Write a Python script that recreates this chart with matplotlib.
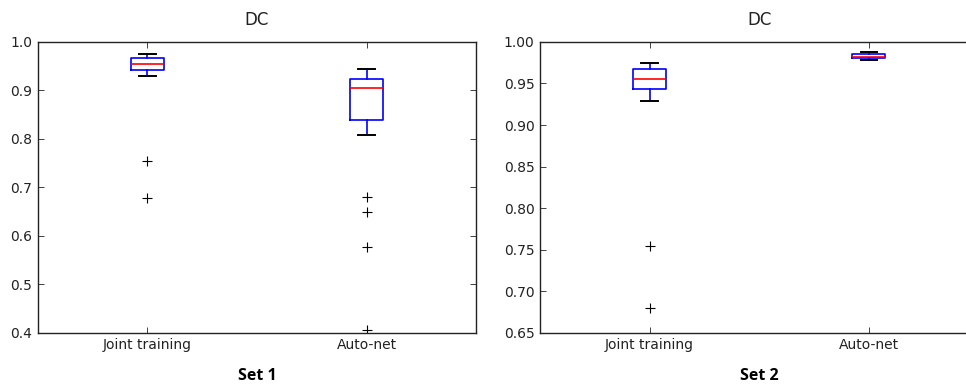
import matplotlib
matplotlib.use("Agg")
import matplotlib.pyplot as plt

categories = ["Joint training", "Auto-net"]

# Set 1 summary statistics
set1_whislo = [0.929, 0.808]
set1_q1 = [0.943, 0.838]
set1_med = [0.955, 0.905]
set1_q3 = [0.967, 0.924]
set1_whishi = [0.975, 0.945]
set1_fliers = [[0.755, 0.679], [0.681, 0.649, 0.577, 0.407]]

# Set 2 summary statistics
set2_whislo = [0.929, 0.978]
set2_q1 = [0.943, 0.980]
set2_med = [0.955, 0.982]
set2_q3 = [0.967, 0.985]
set2_whishi = [0.975, 0.988]
set2_fliers = [[0.755, 0.680], []]

set1_yticks = [0.4, 0.5, 0.6, 0.7, 0.8, 0.9, 1.0]
set2_yticks = [0.65, 0.70, 0.75, 0.80, 0.85, 0.90, 0.95, 1.00]


def make_stats(wl, q1, med, q3, wh, fl):
    return [dict(label=c, whislo=a, q1=b, med=m, q3=d, whishi=e, fliers=f)
            for c, a, b, m, d, e, f in zip(categories, wl, q1, med, q3, wh, fl)]


fig = plt.figure(figsize=(9.66, 3.84), dpi=100)
ax1 = fig.add_axes([0.039, 0.133, 0.454, 0.758])
ax2 = fig.add_axes([0.559, 0.133, 0.454, 0.758])

panels = [
    (ax1, make_stats(set1_whislo, set1_q1, set1_med, set1_q3, set1_whishi, set1_fliers),
     (0.4, 1.0), set1_yticks, "%.1f", "Set 1"),
    (ax2, make_stats(set2_whislo, set2_q1, set2_med, set2_q3, set2_whishi, set2_fliers),
     (0.65, 1.0), set2_yticks, "%.2f", "Set 2"),
]

for ax, stats, ylim, yticks, fmt, setlabel in panels:
    ax.bxp(stats, positions=[1, 2], widths=0.15,
           boxprops=dict(color="blue", linewidth=1.2),
           medianprops=dict(color="red", linewidth=1.2),
           whiskerprops=dict(color="blue", linewidth=1.2, linestyle="-"),
           capprops=dict(color="black", linewidth=1.4),
           flierprops=dict(marker="+", markeredgecolor="black", markersize=7,
                           markeredgewidth=0.8, linestyle="none"))
    ax.set_xlim(0.5, 2.5)
    ax.set_ylim(*ylim)
    ax.set_yticks(yticks)
    ax.set_yticklabels([fmt % v for v in yticks])
    ax.set_xticks([1, 2])
    ax.set_xticklabels(categories)
    ax.tick_params(direction="in", top=True, right=True, labelsize=10,
                   colors="#222222", length=4, width=0.6, pad=4)
    for s in ax.spines.values():
        s.set_linewidth(1.0)
        s.set_color("#222222")
    ax.set_title("DC", fontsize=12, pad=12, color="#222222")
    ax.text(0.5, -0.148, setlabel, transform=ax.transAxes, ha="center", va="center",
            fontsize=11.5, fontweight="bold", family="Open Sans")

fig.savefig("out.png", dpi=100)
